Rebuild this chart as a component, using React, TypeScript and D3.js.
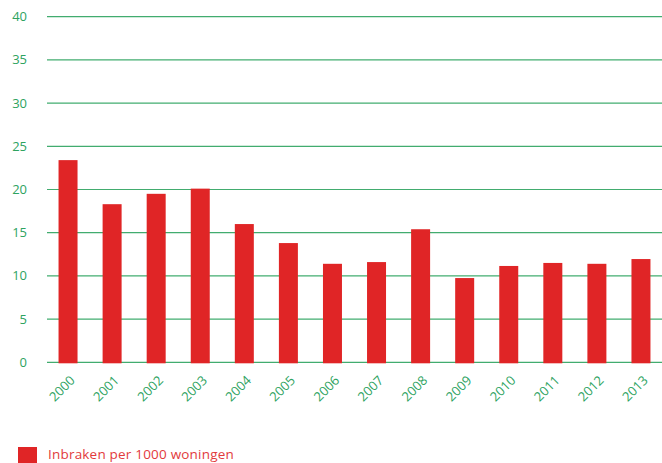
import React from "react";
import * as d3 from "d3";

const years = ["2000","2001","2002","2003","2004","2005","2006","2007","2008","2009","2010","2011","2012","2013"];
const values = [23.4, 18.3, 19.5, 20.1, 16.0, 13.8, 11.4, 11.6, 15.4, 9.75, 11.15, 11.5, 11.4, 11.95];
const yTicks = [0, 5, 10, 15, 20, 25, 30, 35, 40];
const legendLabel = "Inbraken per 1000 woningen";

const W = 662, H = 463;
const green = "#2ea35f";
const red = "#e02526";
const font = "'Open Sans', Roboto, sans-serif";

export default function App() {
  const x = d3.scaleBand<string>().domain(years).range([46, 663]).paddingInner(0.569).paddingOuter(0.2845);
  const y = d3.scaleLinear().domain([0, 40]).range([362.3, 16.7]);
  return (
    <svg width={W} height={H} style={{ position: "absolute", left: 0, top: 0, background: "#fff" }}>
      {yTicks.map((t) => (
        <g key={t}>
          <line x1={47} x2={662} y1={y(t)} y2={y(t)} stroke={green} strokeWidth={1.2} strokeOpacity={0.9} />
          <text x={27} y={y(t)} dy="0.35em" textAnchor="end" fill={green} fontFamily={font} fontSize={13} fontWeight={500}>{t}</text>
        </g>
      ))}
      {years.map((yr, i) => (
        <rect key={yr} x={x(yr)} width={x.bandwidth()} y={y(values[i])} height={y(0) - y(values[i]) + 1} fill={red} />
      ))}
      {years.map((yr) => {
        const cx = (x(yr) as number) + x.bandwidth() / 2;
        return (
          <text key={yr} transform={`translate(${cx + 4.5},${378}) rotate(-45)`} textAnchor="end" dy="0.35em" fill={green} fontFamily={font} fontSize={13} fontWeight={500}>{yr}</text>
        );
      })}
      <rect x={18} y={447} width={19} height={16} fill={red} />
      <text x={48} y={459} fill="#e23a3c" fontFamily={font} fontSize={13.5} fontWeight={500} letterSpacing={0.2}>{legendLabel}</text>
    </svg>
  );
}
